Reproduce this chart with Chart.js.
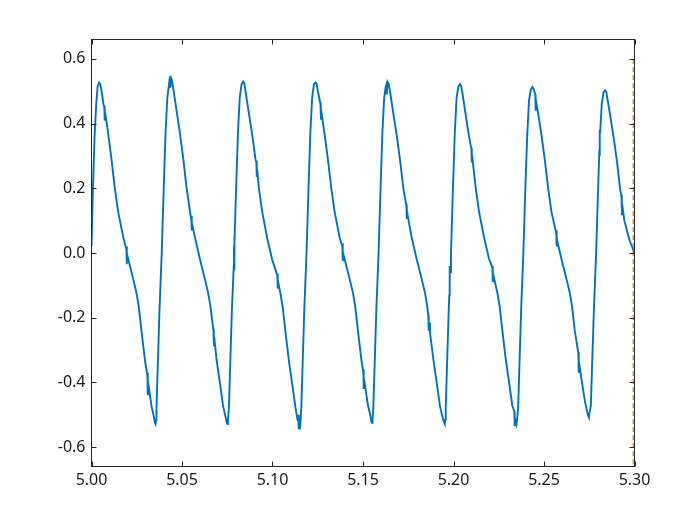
<!DOCTYPE html>
<html>
<head>
<meta charset="utf-8">
<script src="https://cdn.jsdelivr.net/npm/chart.js@4/dist/chart.umd.min.js"></script>
<style>
  html, body { margin: 0; padding: 0; background: #fff; }
  #wrap { width: 700px; height: 525px; }
</style>
</head>
<body>
<div id="wrap"><canvas id="signalChart" width="700" height="525"></canvas></div>
<script>
// signal, one cycle per pair of arrays
const tCycle1 = [5.0000, 5.0008, 5.0017, 5.0026, 5.0034, 5.0042, 5.0048, 5.0055, 5.0066, 5.0071, 5.0072, 5.0073, 5.0074, 5.0075, 5.0092, 5.0110, 5.0129, 5.0147, 5.0175, 5.0193, 5.0194, 5.0195, 5.0196, 5.0197, 5.0202, 5.0230, 5.0248, 5.0261, 5.0276, 5.0295, 5.0309, 5.0310, 5.0311, 5.0312, 5.0313, 5.0331, 5.0344, 5.0350, 5.0354];
const vCycle1 = [0.02, 0.20, 0.36, 0.46, 0.515, 0.527, 0.522, 0.503, 0.46, 0.45, 0.42, 0.455, 0.41, 0.435, 0.37, 0.292, 0.20, 0.128, 0.05, 0.01, -0.02, 0.02, -0.035, -0.005, -0.016, -0.08, -0.122, -0.165, -0.24, -0.33, -0.38, -0.42, -0.37, -0.44, -0.40, -0.472, -0.505, -0.524, -0.529];

const tCycle2 = [5.0357, 5.0359, 5.0365, 5.0376, 5.0388, 5.0399, 5.0409, 5.0419, 5.0429, 5.0431, 5.0433, 5.0434, 5.0436, 5.0438, 5.0444, 5.0451, 5.0470, 5.0488, 5.0506, 5.0525, 5.0543, 5.0552, 5.0553, 5.0554, 5.0555, 5.0556, 5.0571, 5.0598, 5.0626, 5.0644, 5.0657, 5.0674, 5.0675, 5.0676, 5.0677, 5.0678, 5.0691, 5.0709, 5.0727, 5.0740, 5.0747, 5.0751];
const vCycle2 = [-0.516, -0.48, -0.37, -0.17, 0.0, 0.20, 0.37, 0.48, 0.525, 0.51, 0.54, 0.515, 0.548, 0.542, 0.535, 0.512, 0.44, 0.373, 0.296, 0.204, 0.132, 0.10, 0.075, 0.115, 0.07, 0.09, 0.05, -0.016, -0.08, -0.122, -0.165, -0.24, -0.275, -0.235, -0.285, -0.26, -0.33, -0.40, -0.473, -0.505, -0.524, -0.529];

const tCycle3 = [5.0754, 5.0759, 5.0765, 5.0776, 5.0786, 5.0787, 5.0788, 5.0789, 5.0790, 5.0799, 5.0809, 5.0819, 5.0829, 5.0838, 5.0844, 5.0851, 5.0870, 5.0888, 5.0906, 5.0911, 5.0912, 5.0913, 5.0914, 5.0915, 5.0925, 5.0943, 5.0971, 5.0998, 5.1027, 5.1028, 5.1029, 5.1030, 5.1031, 5.1044, 5.1057, 5.1072, 5.1091, 5.1109, 5.1127, 5.1138, 5.1143, 5.1144, 5.1146, 5.1148, 5.1151];
const vCycle3 = [-0.516, -0.48, -0.37, -0.17, -0.04, 0.02, -0.05, 0.05, 0.03, 0.20, 0.37, 0.48, 0.522, 0.530, 0.525, 0.50, 0.43, 0.365, 0.29, 0.28, 0.245, 0.285, 0.235, 0.26, 0.20, 0.128, 0.045, -0.02, -0.07, -0.105, -0.065, -0.11, -0.09, -0.125, -0.17, -0.245, -0.335, -0.405, -0.478, -0.515, -0.52, -0.50, -0.545, -0.52, -0.545];

const tCycle4 = [5.1154, 5.1159, 5.1165, 5.1176, 5.1188, 5.1199, 5.1209, 5.1219, 5.1229, 5.1238, 5.1244, 5.1251, 5.1265, 5.1266, 5.1267, 5.1268, 5.1269, 5.1288, 5.1306, 5.1325, 5.1343, 5.1371, 5.1386, 5.1387, 5.1388, 5.1389, 5.1390, 5.1398, 5.1426, 5.1444, 5.1457, 5.1472, 5.1491, 5.1502, 5.1503, 5.1504, 5.1505, 5.1506, 5.1527, 5.1540, 5.1546, 5.1550];
const vCycle4 = [-0.53, -0.48, -0.37, -0.17, 0.0, 0.20, 0.37, 0.48, 0.522, 0.527, 0.522, 0.50, 0.46, 0.43, 0.465, 0.415, 0.44, 0.367, 0.29, 0.20, 0.128, 0.048, 0.02, -0.01, 0.03, -0.025, 0.0, -0.018, -0.08, -0.122, -0.165, -0.24, -0.33, -0.37, -0.405, -0.36, -0.42, -0.39, -0.47, -0.50, -0.52, -0.525];

const tCycle5 = [5.1553, 5.1557, 5.1563, 5.1574, 5.1586, 5.1597, 5.1607, 5.1617, 5.1627, 5.1629, 5.1631, 5.1632, 5.1634, 5.1636, 5.1642, 5.1649, 5.1668, 5.1686, 5.1704, 5.1723, 5.1740, 5.1741, 5.1742, 5.1743, 5.1744, 5.1769, 5.1796, 5.1824, 5.1842, 5.1855, 5.1861, 5.1862, 5.1863, 5.1864, 5.1865, 5.1870, 5.1889, 5.1907, 5.1925, 5.1938, 5.1948, 5.1952];
const vCycle5 = [-0.512, -0.48, -0.37, -0.17, 0.0, 0.20, 0.37, 0.48, 0.52, 0.50, 0.53, 0.49, 0.515, 0.528, 0.522, 0.50, 0.43, 0.365, 0.29, 0.20, 0.145, 0.11, 0.15, 0.105, 0.125, 0.048, -0.018, -0.08, -0.122, -0.165, -0.195, -0.23, -0.19, -0.24, -0.215, -0.245, -0.33, -0.40, -0.472, -0.505, -0.523, -0.528];

const tCycle6 = [5.1955, 5.1957, 5.1963, 5.1974, 5.1977, 5.1978, 5.1979, 5.1980, 5.1981, 5.1986, 5.1997, 5.2007, 5.2017, 5.2027, 5.2036, 5.2042, 5.2049, 5.2068, 5.2086, 5.2099, 5.2100, 5.2101, 5.2102, 5.2103, 5.2123, 5.2141, 5.2169, 5.2196, 5.2215, 5.2216, 5.2217, 5.2218, 5.2219, 5.2242, 5.2255, 5.2270, 5.2289, 5.2307, 5.2325, 5.2336, 5.2337, 5.2338, 5.2339, 5.2341, 5.2348];
const vCycle6 = [-0.515, -0.48, -0.37, -0.17, -0.13, -0.07, -0.12, -0.04, -0.06, 0.0, 0.20, 0.37, 0.48, 0.515, 0.522, 0.517, 0.495, 0.425, 0.36, 0.32, 0.29, 0.325, 0.28, 0.30, 0.20, 0.128, 0.048, -0.018, -0.045, -0.08, -0.04, -0.09, -0.065, -0.122, -0.165, -0.24, -0.33, -0.40, -0.472, -0.49, -0.52, -0.50, -0.535, -0.515, -0.53];

const tCycle7 = [5.2351, 5.2357, 5.2363, 5.2374, 5.2386, 5.2397, 5.2407, 5.2417, 5.2427, 5.2436, 5.2442, 5.2452, 5.2453, 5.2454, 5.2455, 5.2456, 5.2468, 5.2486, 5.2504, 5.2523, 5.2541, 5.2568, 5.2569, 5.2570, 5.2571, 5.2572, 5.2596, 5.2624, 5.2642, 5.2655, 5.2670, 5.2690, 5.2691, 5.2692, 5.2693, 5.2694, 5.2707, 5.2725, 5.2738, 5.2744, 5.2748];
const vCycle7 = [-0.517, -0.48, -0.37, -0.17, 0.0, 0.20, 0.36, 0.47, 0.505, 0.513, 0.508, 0.49, 0.46, 0.485, 0.44, 0.47, 0.43, 0.365, 0.29, 0.20, 0.128, 0.06, 0.03, 0.07, 0.02, 0.04, -0.018, -0.08, -0.122, -0.165, -0.24, -0.31, -0.35, -0.305, -0.37, -0.34, -0.39, -0.455, -0.49, -0.503, -0.508];

const tCycle8 = [5.2751, 5.2759, 5.2765, 5.2776, 5.2788, 5.2799, 5.2806, 5.2807, 5.2808, 5.2809, 5.2810, 5.2819, 5.2829, 5.2838, 5.2844, 5.2851, 5.2870, 5.2888, 5.2906, 5.2920, 5.2928, 5.2929, 5.2930, 5.2931, 5.2932, 5.2944, 5.2972, 5.3000];
const vCycle8 = [-0.495, -0.47, -0.36, -0.17, 0.0, 0.20, 0.32, 0.36, 0.30, 0.38, 0.37, 0.46, 0.497, 0.503, 0.498, 0.475, 0.41, 0.345, 0.27, 0.20, 0.175, 0.14, 0.18, 0.12, 0.15, 0.10, 0.04, 0.0];

// dashed marker line at the right edge
const markerT = [5.2994, 5.2994];
const markerV = [0.6, -0.66];

const xTicks = [5.00, 5.05, 5.10, 5.15, 5.20, 5.25, 5.30];
const xTickLabels = ['5.00', '5.05', '5.10', '5.15', '5.20', '5.25', '5.30'];
const yTicks = [-0.6, -0.4, -0.2, 0, 0.2, 0.4, 0.6];
const yTickLabels = ['-0.6', '-0.4', '-0.2', '0.0', '0.2', '0.4', '0.6'];

const tAll = [].concat(tCycle1, tCycle2, tCycle3, tCycle4, tCycle5, tCycle6, tCycle7, tCycle8);
const vAll = [].concat(vCycle1, vCycle2, vCycle3, vCycle4, vCycle5, vCycle6, vCycle7, vCycle8);

function toPoints(ts, vs) {
  return ts.map((t, i) => ({ x: t, y: vs[i] }));
}

const axisColor = '#262626';

// matlab style box with inward ticks on all four sides
const boxPlugin = {
  id: 'boxTicks',
  afterDraw(chart) {
    const ctx = chart.ctx;
    const a = chart.chartArea;
    const sx = chart.scales.x;
    const sy = chart.scales.y;
    const len = 5;
    ctx.save();
    ctx.strokeStyle = axisColor;
    ctx.lineWidth = 1;
    ctx.beginPath();
    xTicks.forEach(v => {
      const px = Math.round(sx.getPixelForValue(v)) + 0.5;
      ctx.moveTo(px, a.bottom);
      ctx.lineTo(px, a.bottom - len);
      ctx.moveTo(px, a.top);
      ctx.lineTo(px, a.top + len);
    });
    yTicks.forEach(v => {
      const py = Math.round(sy.getPixelForValue(v)) + 0.5;
      ctx.moveTo(a.left, py);
      ctx.lineTo(a.left + len, py);
      ctx.moveTo(a.right, py);
      ctx.lineTo(a.right - len, py);
    });
    ctx.stroke();
    ctx.strokeRect(a.left, a.top, a.right - a.left, a.bottom - a.top);
    ctx.restore();
  }
};

const ctx = document.getElementById('signalChart').getContext('2d');
const chart = new Chart(ctx, {
  type: 'line',
  data: {
    datasets: [
      {
        data: toPoints(tAll, vAll),
        borderColor: '#0072BD',
        borderWidth: 1.9,
        pointRadius: 0,
        tension: 0,
        fill: false
      },
      {
        data: toPoints(markerT, markerV),
        borderColor: '#E0A526',
        borderWidth: 1.8,
        borderDash: [5, 3],
        pointRadius: 0,
        fill: false
      }
    ]
  },
  options: {
    responsive: false,
    animation: false,
    events: [],
    layout: { padding: { left: 0, right: 65.5, top: 39.5, bottom: 0 } },
    plugins: { legend: { display: false }, tooltip: { enabled: false } },
    scales: {
      x: {
        type: 'linear',
        min: 5.0,
        max: 5.3,
        grid: { display: false, drawTicks: false },
        border: { display: false },
        afterBuildTicks: (scale) => { scale.ticks = xTicks.map(v => ({ value: v })); },
        afterFit: (scale) => { scale.height = 58.5; },
        ticks: {
          maxRotation: 0,
          autoSkip: false,
          padding: 4,
          color: '#1a1a1a',
          font: { family: 'Noto Sans', size: 16 },
          callback: (value, index) => xTickLabels[index]
        }
      },
      y: {
        type: 'linear',
        min: -0.66,
        max: 0.66,
        grid: { display: false, drawTicks: false },
        border: { display: false },
        afterBuildTicks: (scale) => { scale.ticks = yTicks.map(v => ({ value: v })); },
        afterFit: (scale) => { scale.width = 91.5; },
        ticks: {
          autoSkip: false,
          padding: 6,
          color: '#1a1a1a',
          font: { family: 'Noto Sans', size: 16 },
          callback: (value, index) => yTickLabels[index]
        }
      }
    }
  },
  plugins: [boxPlugin]
});
</script>
</body>
</html>
